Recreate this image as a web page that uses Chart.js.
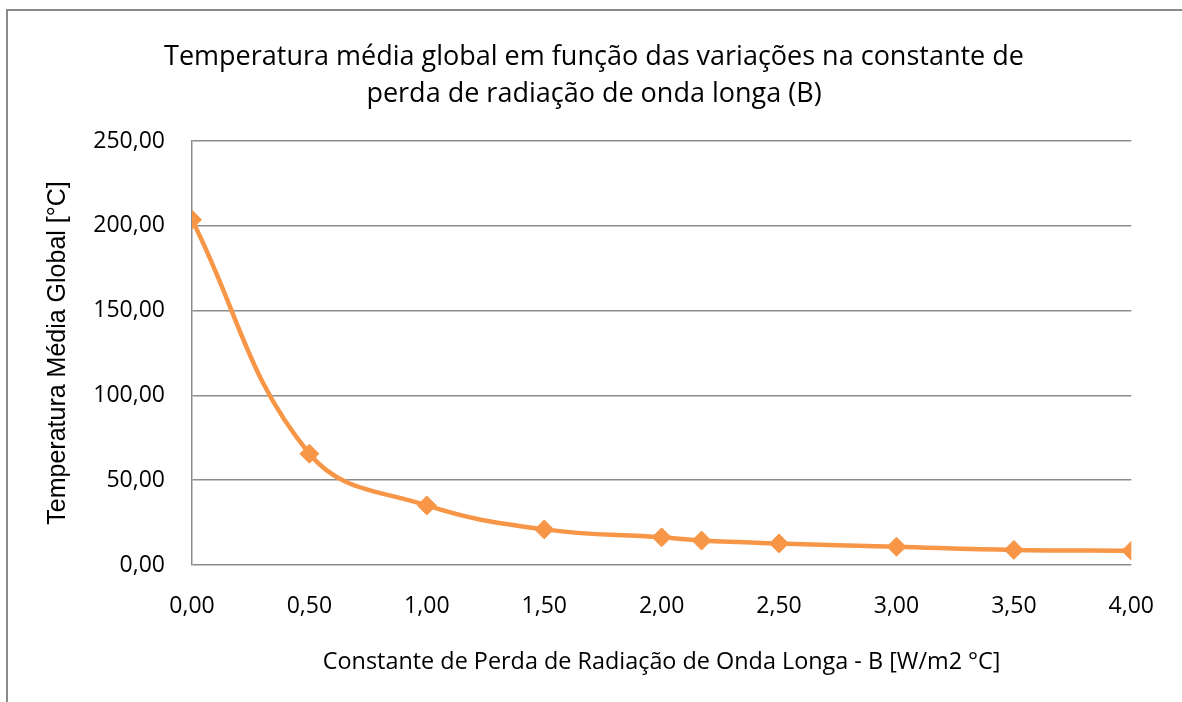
<!DOCTYPE html>
<html>
<head>
<meta charset="utf-8">
<script src="https://cdn.jsdelivr.net/npm/chart.js@4"></script>
<style>
  html, body { margin: 0; padding: 0; background: #fff; overflow: hidden; }
  #frame {
    position: absolute; left: 6px; top: 9px; width: 1300px; height: 800px;
    border-left: 2px solid #8a8a8a; border-top: 2px solid #8a8a8a;
  }
  #wrap { position: absolute; left: 0; top: 0; width: 1182px; height: 702px; }
</style>
</head>
<body>
<div id="frame"></div>
<div id="wrap"><canvas id="chart"></canvas></div>
<script>
// valores
const bValues = [0.00, 0.50, 1.00, 1.50, 2.00, 2.17, 2.50, 3.00, 3.50, 4.00];
const tempValues = [203.6, 65.6, 35.1, 21.0, 16.3, 14.4, 12.7, 10.8, 8.9, 8.4];
const xTicks = [0, 0.5, 1, 1.5, 2, 2.5, 3, 3.5, 4];

const titleLines = [
    'Temperatura média global em função das variações na constante de',
    'perda de radiação de onda longa (B)'
];
const xTitle = 'Constante de Perda de Radiação de Onda Longa - B [W/m2 °C]';
const yTitle = 'Temperatura Média Global [°C]';

const orange = '#F79646';
const gridColor = '#8c8c8c';

const points = bValues.map((b, i) => ({ x: b, y: tempValues[i] }));

function fmt(v) {
    return v.toFixed(2).replace('.', ',');
}

new Chart(document.getElementById('chart'), {
    type: 'scatter',
    data: {
        datasets: [{
            data: points,
            showLine: true,
            borderColor: orange,
            backgroundColor: orange,
            borderWidth: 4.5,
            tension: 0.4,
            pointStyle: 'rectRot',
            pointRadius: 9.5,
            pointBorderWidth: 1,
            pointBorderColor: orange,
            pointBackgroundColor: orange
        }]
    },
    options: {
        responsive: true,
        maintainAspectRatio: false,
        animation: false,
        layout: { padding: { left: 56, right: 50, top: 0, bottom: 0 } },
        plugins: {
            legend: { display: false },
            tooltip: { enabled: false },
            title: {
                display: true,
                text: titleLines,
                color: '#000',
                font: { family: 'Open Sans', size: 27, weight: 'normal', lineHeight: 1.37 },
                padding: { top: 39, bottom: 28 }
            }
        },
        scales: {
            x: {
                type: 'linear',
                min: 0,
                max: 4,
                afterBuildTicks: function(scale) {
                    scale.ticks = xTicks.map(v => ({ value: v }));
                },
                afterFit: function(scale) { scale.height = 137; },
                grid: { display: false, drawTicks: false },
                border: { display: false },
                ticks: {
                    color: '#000',
                    padding: 28,
                    maxRotation: 0,
                    font: { family: 'Open Sans', size: 23 },
                    callback: v => fmt(v)
                },
                title: {
                    display: true,
                    text: xTitle,
                    color: '#000',
                    font: { family: 'Open Sans', size: 23.4 },
                    padding: { top: 0, bottom: 26 }
                }
            },
            y: {
                min: 0,
                max: 250,
                afterFit: function(scale) { scale.width = 136; },
                grid: { color: gridColor, lineWidth: 1.5, drawTicks: false },
                border: { display: true, color: gridColor, width: 1.5 },
                ticks: {
                    stepSize: 50,
                    color: '#000',
                    padding: 27,
                    font: { family: 'Open Sans', size: 23 },
                    callback: v => fmt(v)
                },
                title: {
                    display: true,
                    text: yTitle,
                    color: '#000',
                    font: { family: 'Liberation Sans', size: 25, lineHeight: 0.16 },
                    padding: { top: 0, bottom: 0 }
                }
            }
        }
    }
});
</script>
</body>
</html>
